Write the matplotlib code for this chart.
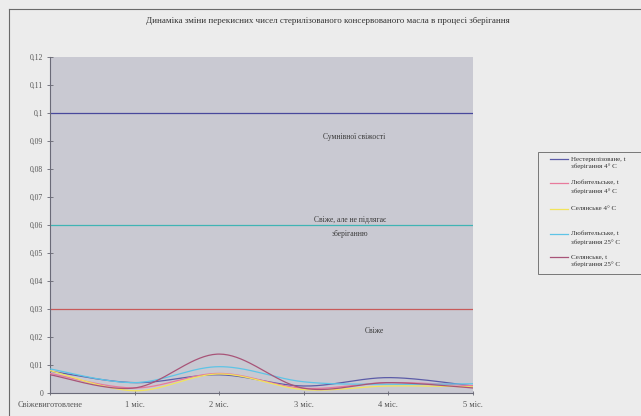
import numpy as np
import matplotlib.pyplot as plt
from matplotlib.lines import Line2D
from matplotlib.patches import Rectangle

plt.rcParams['font.family'] = ['Liberation Serif', 'DejaVu Serif']

# Storage periods (x categories)
periods = ['Свіжевиготовлене', '1 міс.', '2 міс.', '3 міс.', '4 міс.', '5 міс.']

# Peroxide values for each sample
nesteryl_4 = [0.0078, 0.0037, 0.0065, 0.0025, 0.0055, 0.0025]
lyubytel_4 = [0.0070, 0.0018, 0.0070, 0.0017, 0.0037, 0.0026]
selyan_4 = [0.0080, 0.0008, 0.0068, 0.0012, 0.0025, 0.0022]
lyubytel_25 = [0.0086, 0.0037, 0.0094, 0.0040, 0.0031, 0.0033]
selyan_25 = [0.0065, 0.0018, 0.0139, 0.0017, 0.0037, 0.0018]

series_labels = ['Нестерилізоване, t\nзберігання 4° C',
                 'Любительське, t\nзберігання 4° C',
                 'Селянське 4° C',
                 'Любительське, t\nзберігання 25° C',
                 'Селянське, t\nзберігання 25° C']
series_values = [nesteryl_4, lyubytel_4, selyan_4, lyubytel_25, selyan_25]
series_colors = ['#5c5ca8', '#e87a9c', '#f2e45a', '#5ec4e6', '#a85478']

# Freshness thresholds and zone captions
thresholds = [0.1, 0.06, 0.03]
threshold_colors = ['#48489c', '#3fb4b4', '#c85a5a']
zone_labels = ['Сумнівної свіжості', 'Свіже, але не підлягає\nзберіганню', 'Свіже']
zone_pos = [(3.59, 0.0914), (3.55, 0.0593), (3.84, 0.0221)]

y_ticks = [0.0, 0.01, 0.02, 0.03, 0.04, 0.05, 0.06, 0.07, 0.08, 0.09, 0.10, 0.11, 0.12]

title = 'Динаміка зміни перекисних чисел стерилізованого консервованого масла в процесі зберігання'


def smooth(xs, ys, n=40):
    """Catmull-Rom style smoothing through all points (Bezier segments)."""
    pts = np.column_stack([xs, ys]).astype(float)
    P = np.vstack([pts[0], pts, pts[-1]])
    out = []
    t = np.linspace(0, 1, n)[:, None]
    for i in range(len(pts) - 1):
        p0, p1, p2, p3 = P[i], P[i + 1], P[i + 2], P[i + 3]
        c1 = p1 + (p2 - p0) / 6
        c2 = p2 - (p3 - p1) / 6
        seg = ((1 - t) ** 3) * p1 + 3 * ((1 - t) ** 2) * t * c1 + 3 * (1 - t) * t ** 2 * c2 + t ** 3 * p2
        out.append(seg if i == 0 else seg[1:])
    seg = np.vstack(out)
    return seg[:, 0], seg[:, 1]


bg = '#ececec'
fig = plt.figure(figsize=(6.41, 4.16), dpi=100, facecolor=bg)

# Chart frame
fig.add_artist(Line2D([9 / 641, 9 / 641], [0, 1 - 8.5 / 416], color='#6a6a6a', lw=0.8))
fig.add_artist(Line2D([9 / 641, 1], [1 - 8.5 / 416, 1 - 8.5 / 416], color='#6a6a6a', lw=0.8))

ax = fig.add_axes([50 / 641, 1 - 393 / 416, (473 - 50) / 641, (393 - 57) / 416])
ax.set_facecolor('#c9c9d2')

x = np.arange(len(periods))
for val, col in zip(thresholds, threshold_colors):
    ax.plot([x[0], x[-1]], [val, val], color=col, lw=0.9, zorder=2)

for vals, col in zip(series_values, series_colors):
    sx, sy = smooth(x, vals)
    ax.plot(sx, sy, color=col, lw=0.9, zorder=3)

for lab, (px, py) in zip(zone_labels, zone_pos):
    ax.text(px, py, lab, ha='center', va='center', fontsize=5.5, color='#3a3a3a',
            linespacing=1.9, zorder=4)

ax.set_xlim(0, 5)
ax.set_ylim(0, 0.12)
ax.set_xticks(x)
ax.set_xticklabels(periods, fontsize=6, color='#555555')
ax.set_yticks(y_ticks)


def fmt(v):
    s = f'{v:.2f}'.rstrip('0').rstrip('.')
    return s.replace('.', ',')


ax.set_yticklabels([fmt(v) for v in y_ticks], fontsize=5.5, color='#555555')
ax.tick_params(axis='y', direction='inout', length=4, width=0.6, color='#666670', pad=3)
ax.tick_params(axis='x', direction='inout', length=3, width=0.6, color='#666670', pad=4)
for side in ['top', 'right']:
    ax.spines[side].set_visible(False)
for side in ['left', 'bottom']:
    ax.spines[side].set_color('#6a6a78')
    ax.spines[side].set_linewidth(0.8)

fig.text(328 / 641, 1 - 21 / 416, title, ha='center', va='center', fontsize=6.5, color='#333333')

# Legend box
fig.add_artist(Rectangle((538 / 641, 1 - 274 / 416), 110 / 641, (274 - 152) / 416,
                         transform=fig.transFigure, facecolor=bg, edgecolor='#777777', lw=0.7))
legend_rows = [159, 183, 209, 234, 257]
for lab, col, yy in zip(series_labels, series_colors, legend_rows):
    fy = 1 - yy / 416
    fig.add_artist(Line2D([550 / 641, 568 / 641], [fy, fy], color=col, lw=0.9))
    fig.text(571 / 641, fy + 2.5 / 416, lab, ha='left', va='top', fontsize=5,
             color='#333333', linespacing=1.5)

fig.savefig('out.png', dpi=100, facecolor=bg)
